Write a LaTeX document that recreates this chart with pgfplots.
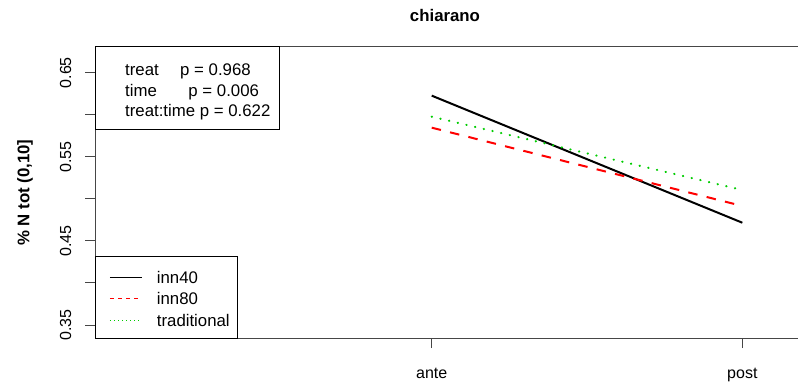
\documentclass[border=0pt]{standalone}
\usepackage{pgfplots}
\pgfplotsset{compat=1.18}
\usepackage{fontspec}
\setmainfont{Liberation Sans}
\definecolor{rgreen}{RGB}{0,205,0}
\definecolor{rred}{RGB}{255,0,0}
\definecolor{axgray}{RGB}{70,70,70}
\newcommand{\fs}{\fontsize{16.8}{20}\selectfont}
\newcommand{\ft}{\fontsize{16}{19}\selectfont}
\begin{document}
\begin{tikzpicture}
\useasboundingbox (-95pt,-42.3pt) rectangle (703pt,338.7pt);
\begin{axis}[
  at={(0pt,0pt)}, anchor=south west,
  scale only axis, width=725pt, height=292pt,
  xmin=-0.084, xmax=2.25, ymin=0.3337, ymax=0.6809,
  xtick={1,2}, xticklabels={ante,post},
  ytick={0.35,0.40,0.45,0.50,0.55,0.60,0.65},
  yticklabels={0.35,{},0.45,{},0.55,{},0.65},
  xtick pos=bottom, ytick pos=left,
  tick align=outside, major tick length=9.5pt,
  tick style={axgray, line width=0.9pt},
  axis line style={axgray, line width=0.9pt},
  ticklabel style={font=\ft},
  yticklabel style={rotate=90, anchor=south, inner sep=0pt},
  yticklabel shift=14pt,
  xticklabel style={anchor=base, inner sep=0pt},
  xticklabel shift=30pt,
  title={chiarano},
  every axis title/.style={at={(axis description cs:0.48276,1)}, anchor=base, yshift=25pt, font=\bfseries\fs},
  ylabel={\% N tot (0,10]},
  every axis y label/.style={at={(axis description cs:-0.09655,0.5)}, rotate=90, anchor=center, font=\bfseries\fs},
]
\addplot[black, line width=2pt]
  coordinates {(1,0.6227) (2,0.4716)};
\addplot[rred, line width=2pt, dash pattern=on 9.5pt off 9.4pt]
  coordinates {(1,0.5846) (2,0.4915)};
\addplot[rgreen, line width=2.2pt, line cap=round, dash pattern=on 0.3pt off 8.6pt]
  coordinates {(1,0.5977) (2,0.5105)};
\end{axis}
% legend
\draw[black, line width=0.9pt] (0pt,0pt) rectangle (142.7pt,82.3pt);
\draw[black, line width=1pt] (15pt,61.7pt) -- (46.7pt,61.7pt);
\draw[rred, line width=1pt, dash pattern=on 4pt off 4pt] (15pt,40.2pt) -- (46.7pt,40.2pt);
\draw[rgreen, line width=1pt, dash pattern=on 1pt off 3pt] (15pt,18.7pt) -- (46.7pt,18.7pt);
\node[anchor=base west, inner sep=0pt, font=\fs] at (61.7pt,55.5pt) {inn40};
\node[anchor=base west, inner sep=0pt, font=\fs] at (61.7pt,34pt) {inn80};
\node[anchor=base west, inner sep=0pt, font=\fs] at (61.7pt,12.5pt) {traditional};
% test box
\draw[black, line width=0.9pt] (0pt,292pt) rectangle (184pt,209.7pt);
\node[anchor=base west, inner sep=0pt, font=\fs] at (30pt,262.7pt) {\makebox[55pt][l]{treat}p = 0.968};
\node[anchor=base west, inner sep=0pt, font=\fs] at (30pt,242.7pt) {\makebox[63.3pt][l]{time}p = 0.006};
\node[anchor=base west, inner sep=0pt, font=\fs] at (30pt,222pt) {treat:time p = 0.622};
\end{tikzpicture}
\end{document}
